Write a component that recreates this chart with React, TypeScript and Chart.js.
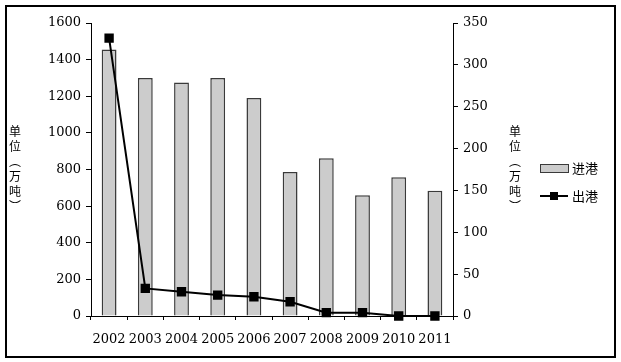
import React, { useEffect, useRef } from "react";
import { Chart, registerables } from "chart.js";

Chart.register(...registerables);

const years = ["2002", "2003", "2004", "2005", "2006", "2007", "2008", "2009", "2010", "2011"];
const inbound = [1455, 1300, 1275, 1300, 1190, 787, 862, 660, 757, 684];
const outbound = [332, 33, 29, 25, 23, 17, 4, 4, 0, 0];
const inboundLabel = "进港";
const outboundLabel = "出港";
const axisTitleChars = ["单", "位", "︵", "万", "吨", "︶"];

const TICK_FONT = { family: "'DejaVu Serif', serif", size: 13 };
const CJK = "'Noto Sans CJK SC', sans-serif";

const decorPlugin = {
  id: "decor",
  afterDraw(chart: any) {
    const ctx = chart.ctx;
    ctx.save();
    // frame
    ctx.strokeStyle = "#000";
    ctx.lineWidth = 2;
    ctx.strokeRect(6, 6, 609, 351);
    // vertical axis titles
    ctx.fillStyle = "#000";
    ctx.font = `12px ${CJK}`;
    ctx.textAlign = "center";
    ctx.textBaseline = "middle";
    axisTitleChars.forEach((c, i) => {
      ctx.fillText(c, 15, 131 + i * 15);
      ctx.fillText(c, 515, 131 + i * 15);
    });
    // legend
    const ds0 = chart.data.datasets[0];
    const ds1 = chart.data.datasets[1];
    ctx.fillStyle = ds0.backgroundColor;
    ctx.fillRect(540, 164, 28, 8);
    ctx.strokeStyle = ds0.borderColor;
    ctx.lineWidth = 1;
    ctx.strokeRect(540.5, 164.5, 28, 8);
    ctx.strokeStyle = ds1.borderColor;
    ctx.lineWidth = 2;
    ctx.beginPath();
    ctx.moveTo(540, 196);
    ctx.lineTo(568, 196);
    ctx.stroke();
    ctx.fillStyle = ds1.pointBackgroundColor;
    ctx.fillRect(550, 192, 8, 8);
    ctx.fillStyle = "#000";
    ctx.font = `13px ${CJK}`;
    ctx.textAlign = "left";
    ctx.fillText(ds0.label, 572, 168);
    ctx.fillText(ds1.label, 572, 196);
    ctx.restore();
  },
};

export default function App() {
  const ref = useRef<HTMLCanvasElement>(null);
  useEffect(() => {
    if (!ref.current) return;
    const chart = new Chart(ref.current, {
      type: "bar",
      data: {
        labels: years,
        datasets: [
          {
            type: "bar",
            label: inboundLabel,
            data: inbound,
            yAxisID: "y",
            backgroundColor: "#cccccc",
            borderColor: "#3a3a3a",
            borderWidth: 1.5,
            barPercentage: 0.41,
            categoryPercentage: 1,
            order: 2,
          } as any,
          {
            type: "line",
            label: outboundLabel,
            data: outbound,
            yAxisID: "y1",
            borderColor: "#000",
            backgroundColor: "#000",
            pointBackgroundColor: "#000",
            pointBorderColor: "#000",
            borderWidth: 2,
            pointStyle: "rect",
            pointRadius: 5.2,
            tension: 0,
            clip: false,
            order: 1,
          } as any,
        ],
      },
      options: {
        responsive: false,
        animation: false,
        layout: { padding: { top: 23, left: 0, right: 0, bottom: 0 } },
        plugins: { legend: { display: false }, tooltip: { enabled: false } },
        scales: {
          x: {
            offset: true,
            grid: { display: true, drawOnChartArea: false, drawTicks: true, tickLength: 4, color: "#000", offset: true },
            border: { color: "#000", width: 1 },
            ticks: { color: "#000", font: TICK_FONT, padding: 12, maxRotation: 0 },
            afterFit: (s: any) => { s.height = 46; },
          },
          y: {
            position: "left",
            min: 0,
            max: 1600,
            ticks: { stepSize: 200, color: "#000", font: TICK_FONT, padding: 5, callback: (v: any) => String(v) },
            grid: { drawOnChartArea: false, tickLength: 5, color: "#000" },
            border: { color: "#000", width: 1 },
            afterFit: (s: any) => { s.width = 91; },
          },
          y1: {
            position: "right",
            min: 0,
            max: 350,
            ticks: { stepSize: 50, color: "#000", font: TICK_FONT, padding: 5, callback: (v: any) => String(v) },
            grid: { drawOnChartArea: false, tickLength: 5, color: "#000" },
            border: { color: "#000", width: 1 },
            afterFit: (s: any) => { s.width = 168; },
          },
        },
      },
      plugins: [decorPlugin],
    });
    return () => chart.destroy();
  }, []);
  return (
    <div style={{ position: "absolute", left: 0, top: 0, width: 621, height: 362, background: "#fff" }}>
      <canvas ref={ref} width={621} height={362} />
    </div>
  );
}
